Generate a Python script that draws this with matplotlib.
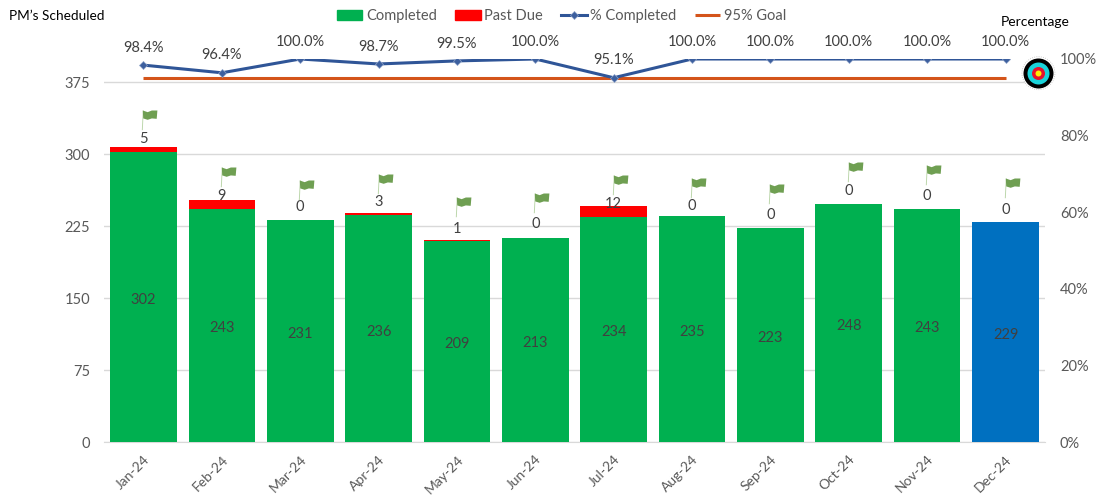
import numpy as np
import matplotlib
matplotlib.use("Agg")
import matplotlib.pyplot as plt
from matplotlib.path import Path

plt.rcParams['font.family'] = ['Lato', 'DejaVu Sans']

months = ['Jan-24', 'Feb-24', 'Mar-24', 'Apr-24', 'May-24', 'Jun-24',
          'Jul-24', 'Aug-24', 'Sep-24', 'Oct-24', 'Nov-24', 'Dec-24']
completed = [302, 243, 231, 236, 209, 213, 234, 235, 223, 248, 243, 229]
past_due = [5, 9, 0, 3, 1, 0, 12, 0, 0, 0, 0, 0]
pct_completed = [98.4, 96.4, 100.0, 98.7, 99.5, 100.0, 95.1, 100.0, 100.0, 100.0, 100.0, 100.0]
goal = [95] * 12
# height of the past due label and of the flag
label_y = [316, 256, 245, 250, 222, 227, 248, 246, 236, 262, 256, 242]
flag_y = [335, 276, 263, 269, 245, 249, 268, 265, 258, 281, 278, 265]

GREEN = '#00B050'
RED = '#FF0000'
BLUE = '#2F5597'
ORANGE = '#D4541A'
GRID = '#D9D9D9'
TICK = '#595959'
LABEL = '#404040'

W, H = 1097, 497
fig = plt.figure(figsize=(W / 100, H / 100), dpi=100)
ax = fig.add_axes([104.3 / W, (H - 442) / H, 940.4 / W, 383 / H])
ax2 = ax.twinx()

x = np.arange(len(months))
bar_colors = [GREEN] * 11 + ['#0070C0']
ax.bar(x, completed, width=0.85, color=bar_colors, zorder=3)
ax.bar(x, past_due, width=0.85, bottom=completed, color=RED, zorder=3)

for i in x:
    ax.annotate(str(completed[i]), (i, completed[i] / 2), xytext=(0, -2),
                textcoords='offset points', ha='center', va='center',
                fontsize=10.5, color=LABEL, zorder=4)
    # text sits under the bars: the Feb label is cut by the red segment
    ax.text(i, label_y[i], str(past_due[i]), ha='center', va='center',
            fontsize=10.5, color=LABEL, zorder=2 if i == 1 else 4)

ax.set_xlim(-0.5, 11.5)
ax.set_ylim(0, 399)
ax.set_yticks([0, 75, 150, 225, 300, 375])
ax.set_xticks(x)
ax.set_xticklabels(months, rotation=45, ha='right', rotation_mode='anchor')
ax.tick_params(axis='both', length=0, labelsize=10.5, labelcolor=TICK)
ax.tick_params(axis='x', pad=8, labelsize=10)
ax.tick_params(axis='y', pad=10)
ax.grid(axis='y', color=GRID, linewidth=1, zorder=0)
ax.set_axisbelow(True)
for s in ['top', 'left', 'right']:
    ax.spines[s].set_visible(False)
ax.spines['bottom'].set_color(GRID)

# flags
pole = Path([(-0.12, -0.7), (-0.05, 0.72), (0.01, 0.72), (-0.05, -0.7), (-1, 1), (1, -1)],
            [Path.MOVETO, Path.LINETO, Path.LINETO, Path.LINETO, Path.MOVETO, Path.MOVETO])
cloth = Path([(-0.05, 0.72), (0.3, 0.6), (0.6, 0.72), (1.0, 0.72), (0.95, 0.12),
              (0.6, 0.15), (0.3, 0.05), (-0.02, 0.15), (-0.05, 0.72), (-1, -1)],
             [Path.MOVETO] + [Path.LINETO] * 8 + [Path.MOVETO])
ax.scatter(x, flag_y, marker=pole, s=400, color='#BBD6AA', linewidths=0, zorder=5)
ax.scatter(x, flag_y, marker=cloth, s=400, color='#6F9F52', linewidths=0, zorder=5)

# right axis with the lines
ax2.set_ylim(0, 100)
ax2.set_yticks([0, 20, 40, 60, 80, 100])
ax2.set_yticklabels(['0%', '20%', '40%', '60%', '80%', '100%'])
ax2.tick_params(axis='y', length=0, labelsize=10.5, labelcolor=TICK, pad=11)
for s in ax2.spines.values():
    s.set_visible(False)

line_goal, = ax2.plot(x, goal, color=ORANGE, linewidth=2.2, zorder=5, solid_capstyle='butt')
line_pct, = ax2.plot(x, pct_completed, color=BLUE, linewidth=2.2, marker='D', markersize=4,
                     markerfacecolor='#3C5F9E', markeredgecolor='#8FA3C8', markeredgewidth=0.5, zorder=6)
for i in x:
    ax2.annotate(f'{pct_completed[i]:.1f}%', (i, pct_completed[i]), xytext=(0, 12.5),
                 textcoords='offset points', ha='center', va='center', fontsize=10.5, color=LABEL)

# target icon next to the goal line
ax2.scatter([11.42], [96.3], s=(33 * 0.72) ** 2, facecolor='white', edgecolor='#BFBFBF', linewidths=0.6,
            linestyle=':', zorder=7, clip_on=False)
for size, col in [(30, 'black'), (22, '#19D3DA'), (13, '#E8112D'), (6, '#FFED00')]:
    ax2.scatter([11.42], [96.3], s=(size * 0.72) ** 2, color=col, linewidths=0, zorder=7, clip_on=False)

fig.text(9 / W, 1 - 16 / H, 'PM\u2019s Scheduled', fontsize=9.8, color='black', va='center')
fig.text(1001 / W, 1 - 22 / H, 'Percentage', fontsize=10, color='black', va='center')

handles = [plt.Rectangle((0, 0), 1, 1, color=GREEN), plt.Rectangle((0, 0), 1, 1, color=RED), line_pct, line_goal]
fig.legend(handles, ['Completed', 'Past Due', '% Completed', '95% Goal'], ncol=4, frameon=False,
           loc='center', bbox_to_anchor=(561.5 / W, 1 - 16 / H), fontsize=10.5, labelcolor=TICK,
           handlelength=1.75, handleheight=0.7, handletextpad=0.25, columnspacing=1.25)

fig.savefig('out.png', dpi=100)
